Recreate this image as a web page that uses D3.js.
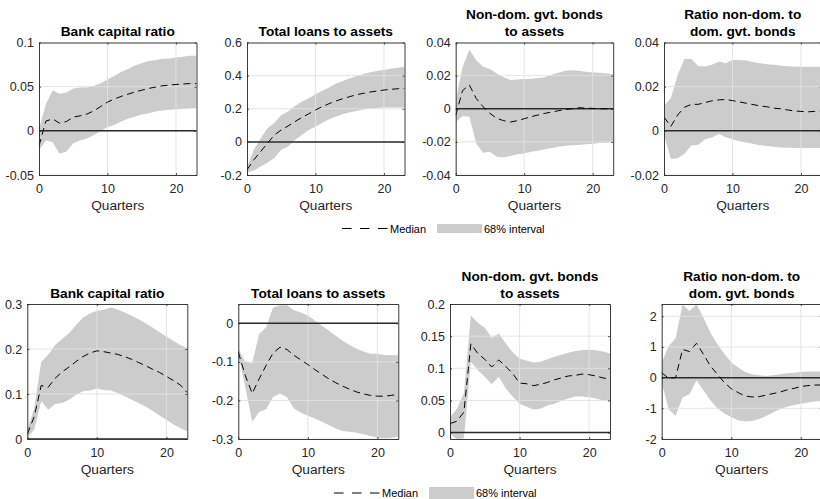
<!DOCTYPE html>
<html>
<head>
<meta charset="utf-8">
<script src="https://cdnjs.cloudflare.com/ajax/libs/d3/7.8.5/d3.min.js"></script>
<style>
	body { margin: 0; background: #fff; }
	svg { display: block; font-family: "Liberation Sans", Arial, Helvetica, sans-serif; }
	.tick-label { font-size: 12.5px; fill: #262626; }
	.x-label { font-size: 13.7px; fill: #262626; }
	.title { font-size: 13.7px; font-weight: bold; fill: #000; }
	.legend-label { font-size: 11px; fill: #000; }
</style>
</head>
<body>
<svg id="irfsvg" width="820" height="499"></svg>
<script>
(function () {
	//DATA
	var quarters = [0, 1, 2, 3, 4, 5, 6, 7, 8, 9, 10, 11, 12, 13, 14, 15, 16, 17, 18, 19, 20, 21, 22, 23];
	var xTicks = [0, 10, 20];

	// top row
	var capTopMed = [-0.017, 0.011, 0.0135, 0.0087, 0.0105, 0.0155, 0.017, 0.019, 0.0226, 0.0275, 0.0325, 0.036, 0.039, 0.0415, 0.044, 0.046, 0.048, 0.0495, 0.051, 0.0517, 0.0525, 0.053, 0.0535, 0.0535];
	var capTopHi = [0.002, 0.03, 0.0457, 0.042, 0.0434, 0.048, 0.049, 0.049, 0.051, 0.054, 0.058, 0.062, 0.0665, 0.070, 0.074, 0.0766, 0.079, 0.080, 0.0815, 0.082, 0.083, 0.084, 0.085, 0.085];
	var capTopLo = [-0.022, -0.011, -0.013, -0.026, -0.0234, -0.014, -0.011, -0.0087, -0.005, 0, 0.004, 0.007, 0.0106, 0.0136, 0.016, 0.0185, 0.02, 0.022, 0.023, 0.024, 0.0245, 0.025, 0.0253, 0.0257];

	var loanTopMed = [-0.169, -0.108, -0.058, -0.008, 0.042, 0.072, 0.096, 0.122, 0.147, 0.169, 0.193, 0.213, 0.231, 0.247, 0.261, 0.273, 0.285, 0.293, 0.301, 0.307, 0.313, 0.317, 0.321, 0.323];
	var loanTopHi = [-0.15, -0.048, 0.022, 0.082, 0.116, 0.163, 0.183, 0.217, 0.243, 0.263, 0.287, 0.309, 0.329, 0.353, 0.367, 0.383, 0.398, 0.41, 0.42, 0.428, 0.434, 0.442, 0.448, 0.454];
	var loanTopLo = [-0.185, -0.173, -0.149, -0.124, -0.098, -0.048, -0.028, 0.012, 0.042, 0.072, 0.092, 0.116, 0.137, 0.153, 0.167, 0.179, 0.187, 0.195, 0.201, 0.205, 0.207, 0.207, 0.207, 0.207];

	var bondTopMed = [-0.004, 0.011, 0.0143, 0.0062, 0.0012, -0.0028, -0.0058, -0.0072, -0.008, -0.0072, -0.006, -0.0048, -0.0038, -0.0028, -0.002, -0.0012, -0.0004, 0, 0.0006, 0.0004, 0.0002, 0, 0, -0.0004];
	var bondTopHi = [0.005, 0.025, 0.0358, 0.0293, 0.0253, 0.024, 0.0213, 0.019, 0.0173, 0.0177, 0.0179, 0.018, 0.0185, 0.019, 0.0205, 0.0217, 0.0229, 0.0233, 0.0229, 0.0223, 0.0219, 0.0217, 0.0213, 0.0209];
	var bondTopLo = [-0.008, -0.0044, -0.0048, -0.021, -0.0265, -0.026, -0.029, -0.0293, -0.0285, -0.0275, -0.027, -0.026, -0.0253, -0.0245, -0.0237, -0.0229, -0.0223, -0.0221, -0.0219, -0.0215, -0.0211, -0.0207, -0.0205, -0.0203];

	var ratioTopMed = [0.0062, 0.002, 0.0072, 0.0107, 0.012, 0.012, 0.0128, 0.0136, 0.014, 0.0142, 0.0137, 0.0131, 0.0125, 0.0119, 0.0113, 0.0109, 0.0103, 0.01, 0.0095, 0.009, 0.0088, 0.0086, 0.0088, 0.009];
	var ratioTopHi = [0.0113, 0.0148, 0.0254, 0.0325, 0.0325, 0.0294, 0.0291, 0.0299, 0.0314, 0.0306, 0.0321, 0.0321, 0.0318, 0.0312, 0.0306, 0.0302, 0.0299, 0.0296, 0.0293, 0.0291, 0.029, 0.029, 0.029, 0.029];
	var ratioTopLo = [-0.0018, -0.0128, -0.0124, -0.0104, -0.0066, -0.0063, -0.0038, -0.003, -0.0014, -0.0029, -0.0038, -0.0047, -0.0053, -0.0059, -0.0065, -0.0069, -0.0072, -0.0075, -0.0077, -0.0078, -0.0078, -0.0078, -0.0078, -0.0077];

	// bottom row
	var capBotMed = [0.011, 0.05, 0.119, 0.115, 0.135, 0.149, 0.16, 0.172, 0.183, 0.191, 0.196, 0.194, 0.191, 0.188, 0.183, 0.177, 0.17, 0.163, 0.155, 0.148, 0.139, 0.13, 0.12, 0.103];
	var capBotHi = [0.02, 0.069, 0.171, 0.187, 0.209, 0.222, 0.235, 0.253, 0.27, 0.279, 0.285, 0.287, 0.292, 0.287, 0.281, 0.274, 0.266, 0.257, 0.248, 0.237, 0.228, 0.218, 0.209, 0.202];
	var capBotLo = [0.004, 0.021, 0.084, 0.065, 0.078, 0.08, 0.087, 0.098, 0.106, 0.108, 0.112, 0.109, 0.108, 0.102, 0.095, 0.087, 0.08, 0.072, 0.063, 0.052, 0.043, 0.033, 0.024, 0.017];

	var loanBotMed = [-0.075, -0.135, -0.182, -0.144, -0.109, -0.077, -0.062, -0.068, -0.083, -0.095, -0.107, -0.12, -0.132, -0.144, -0.154, -0.163, -0.171, -0.178, -0.183, -0.187, -0.189, -0.189, -0.187, -0.184];
	var loanBotHi = [-0.066, -0.1, -0.103, -0.028, -0.01, 0.041, 0.047, 0.047, 0.034, 0.028, 0.02, 0.007, -0.006, -0.019, -0.032, -0.045, -0.056, -0.066, -0.073, -0.079, -0.079, -0.082, -0.083, -0.083];
	var loanBotLo = [-0.079, -0.165, -0.255, -0.23, -0.223, -0.191, -0.182, -0.191, -0.221, -0.232, -0.24, -0.247, -0.255, -0.264, -0.273, -0.279, -0.281, -0.284, -0.288, -0.292, -0.297, -0.298, -0.297, -0.294];

	var bondBotMed = [0.014, 0.0177, 0.032, 0.138, 0.123, 0.114, 0.102, 0.113, 0.103, 0.092, 0.077, 0.076, 0.073, 0.075, 0.078, 0.082, 0.085, 0.088, 0.089, 0.091, 0.09, 0.088, 0.085, 0.083];
	var bondBotHi = [0.024, 0.037, 0.061, 0.182, 0.171, 0.163, 0.147, 0.154, 0.139, 0.125, 0.115, 0.112, 0.109, 0.11, 0.114, 0.118, 0.121, 0.124, 0.127, 0.128, 0.129, 0.128, 0.126, 0.123];
	var bondBotLo = [-0.0015, -0.0104, -0.009, 0.11, 0.097, 0.087, 0.075, 0.087, 0.069, 0.056, 0.045, 0.04, 0.036, 0.037, 0.042, 0.045, 0.049, 0.053, 0.056, 0.056, 0.055, 0.053, 0.05, 0.049];

	var ratioBotMed = [0.16, -0.02, 0, 0.92, 0.85, 1.12, 0.76, 0.38, 0.11, -0.16, -0.36, -0.49, -0.6, -0.63, -0.62, -0.57, -0.52, -0.47, -0.4, -0.35, -0.29, -0.26, -0.24, -0.24];
	var ratioBotHi = [0.49, 1.03, 1.28, 2.38, 2.17, 2.4, 1.95, 1.46, 1.1, 0.78, 0.49, 0.33, 0.18, 0.11, 0.08, 0.05, 0.08, 0.11, 0.14, 0.16, 0.18, 0.2, 0.2, 0.2];
	var ratioBotLo = [-0.16, -1.03, -1.25, -0.65, -0.54, -0.09, -0.41, -0.74, -1.0, -1.17, -1.28, -1.39, -1.43, -1.41, -1.35, -1.25, -1.14, -1.03, -0.95, -0.89, -0.85, -0.81, -0.78, -0.76];

	var titles = [
		["Bank capital ratio"], ["Total loans to assets"], ["Non-dom. gvt. bonds", "to assets"], ["Ratio non-dom. to", "dom. gvt. bonds"]
	];
	var yTicksCap = [-0.05, 0, 0.05, 0.1], yTicksLoan = [-0.2, 0, 0.2, 0.4, 0.6];
	var yTicksBond = [-0.04, -0.02, 0, 0.02, 0.04], yTicksRatio = [-0.02, 0, 0.02, 0.04];
	var yTicksCapB = [0, 0.1, 0.2, 0.3], yTicksLoanB = [-0.3, -0.2, -0.1, 0];
	var yTicksBondB = [0, 0.05, 0.1, 0.15, 0.2], yTicksRatioB = [-2, -1, 0, 1, 2];
	var legendLabels = ["Median", "68% interval"];

	var panels = [
		{ row: 0, col: 0, med: capTopMed, hi: capTopHi, lo: capTopLo, dom: [-0.05, 0.1], ticks: yTicksCap },
		{ row: 0, col: 1, med: loanTopMed, hi: loanTopHi, lo: loanTopLo, dom: [-0.2, 0.6], ticks: yTicksLoan },
		{ row: 0, col: 2, med: bondTopMed, hi: bondTopHi, lo: bondTopLo, dom: [-0.04, 0.04], ticks: yTicksBond },
		{ row: 0, col: 3, med: ratioTopMed, hi: ratioTopHi, lo: ratioTopLo, dom: [-0.02, 0.04], ticks: yTicksRatio },
		{ row: 1, col: 0, med: capBotMed, hi: capBotHi, lo: capBotLo, dom: [0, 0.3], ticks: yTicksCapB },
		{ row: 1, col: 1, med: loanBotMed, hi: loanBotHi, lo: loanBotLo, dom: [-0.3, 0.05], ticks: yTicksLoanB },
		{ row: 1, col: 2, med: bondBotMed, hi: bondBotHi, lo: bondBotLo, dom: [-0.01, 0.2], ticks: yTicksBondB },
		{ row: 1, col: 3, med: ratioBotMed, hi: ratioBotHi, lo: ratioBotLo, dom: [-2, 2.4], ticks: yTicksRatioB }
	];

	//LAYOUT
	var rows = [
		{ top: 42.5, bottom: 175, lefts: [39, 247, 455.7, 664], width: 157.5, legendY: 228.5, legendX: 342 },
		{ top: 304, bottom: 439, lefts: [27.3, 238.3, 450, 661.7], width: 160, legendY: 493, legendX: 334 }
	];

	var svg = d3.select("#irfsvg");
	var fmt = function (v) { return v === 0 ? "0" : String(+v.toFixed(4)); };

	panels.forEach(function (p, i) { drawPanel(p, i); });
	rows.forEach(function (r, i) { drawLegend(r, i); });

	function drawPanel(p, i) {
		var r = rows[p.row];
		var w = r.width, h = r.bottom - r.top;
		var x = d3.scaleLinear().domain([0, 23]).range([0, w]);
		var y = d3.scaleLinear().domain(p.dom).range([h, 0]);
		var g = svg.append("g").attr("transform", "translate(" + r.lefts[p.col] + "," + r.top + ")");

		g.append("clipPath").attr("id", "clip" + i)
			.append("rect").attr("width", w).attr("height", h);
		var plot = g.append("g").attr("clip-path", "url(#clip" + i + ")");

		var band = d3.area()
			.x(function (d) { return x(d); })
			.y0(function (d, j) { return y(p.lo[j]); })
			.y1(function (d, j) { return y(p.hi[j]); });
		plot.append("path").datum(quarters)
			.attr("d", band)
			.style("fill", "#cccccc");

		// grid
		plot.selectAll(".gx").data(xTicks).enter().append("line")
			.attr("x1", function (d) { return x(d); }).attr("x2", function (d) { return x(d); })
			.attr("y1", 0).attr("y2", h)
			.style("stroke", "#e2e2e2").style("stroke-width", 0.9);
		plot.selectAll(".gy").data(p.ticks).enter().append("line")
			.attr("x1", 0).attr("x2", w)
			.attr("y1", function (d) { return y(d); }).attr("y2", function (d) { return y(d); })
			.style("stroke", "#e2e2e2").style("stroke-width", 0.9);

		// zero line
		plot.append("line")
			.attr("x1", x(0)).attr("x2", x(23))
			.attr("y1", y(0)).attr("y2", y(0))
			.style("stroke", "#2a2a2a").style("stroke-width", 1.5);

		var line = d3.line()
			.x(function (d) { return x(d); })
			.y(function (d, j) { return y(p.med[j]); });
		plot.append("path").datum(quarters)
			.attr("d", line)
			.style("fill", "none")
			.style("stroke", "#000")
			.style("stroke-width", 1)
			.style("stroke-dasharray", "7,4.5");

		// axes box with inward ticks
		var xAxis = d3.axisBottom(x).tickValues(xTicks).tickSizeInner(-2).tickSizeOuter(0).tickFormat(fmt).tickPadding(7);
		var yAxis = d3.axisLeft(y).tickValues(p.ticks).tickSizeInner(-2).tickSizeOuter(0).tickFormat(fmt).tickPadding(5);
		var gx = g.append("g").attr("transform", "translate(0," + h + ")").call(xAxis);
		var gy = g.append("g").call(yAxis);
		g.append("g").call(d3.axisTop(x).tickValues(xTicks).tickSizeInner(-2).tickSizeOuter(0).tickFormat(""));
		g.append("g").attr("transform", "translate(" + w + ",0)")
			.call(d3.axisRight(y).tickValues(p.ticks).tickSizeInner(-2).tickSizeOuter(0).tickFormat(""));
		g.selectAll(".domain").style("stroke", "#262626").style("stroke-width", 0.9);
		g.selectAll(".tick line").style("stroke", "#262626").style("stroke-width", 0.8);
		g.selectAll(".tick text").attr("class", "tick-label").style("font-family", null).style("font-size", null);
		gx.selectAll("text").attr("dy", "0.9em");

		g.append("text").attr("class", "x-label")
			.attr("x", w / 2).attr("y", h + 35)
			.attr("text-anchor", "middle")
			.text("Quarters");

		var t = titles[p.col];
		g.selectAll(".title").data(t).enter().append("text")
			.attr("class", "title")
			.attr("x", w / 2)
			.attr("y", function (d, j) { return -6.5 - 17 * (t.length - 1 - j); })
			.attr("text-anchor", "middle")
			.text(function (d) { return d; });
	}

	function drawLegend(r, i) {
		var lg = svg.append("g").attr("class", "legend");
		var x0 = r.legendX, yc = r.legendY;
		lg.append("line")
			.attr("x1", x0).attr("x2", x0 + 46)
			.attr("y1", yc).attr("y2", yc)
			.style("stroke", "#000").style("stroke-width", 1)
			.style("stroke-dasharray", "9.5,8.5");
		lg.append("text").attr("class", "legend-label")
			.attr("x", x0 + 48).attr("y", yc + 4)
			.text(legendLabels[0]);
		lg.append("rect")
			.attr("x", x0 + 95).attr("y", yc - (i === 0 ? 4.5 : 6))
			.attr("width", 45).attr("height", i === 0 ? 9 : 12)
			.style("fill", "#cccccc");
		lg.append("text").attr("class", "legend-label")
			.attr("x", x0 + 142).attr("y", yc + 4)
			.text(legendLabels[1]);
	}
})();
</script>
</body>
</html>
